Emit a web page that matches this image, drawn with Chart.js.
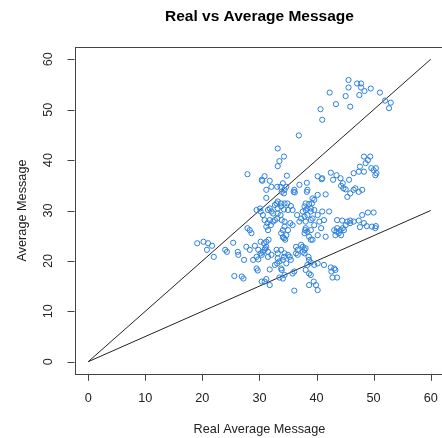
<!DOCTYPE html>
<html>
<head>
<meta charset="utf-8">
<title>Real vs Average Message</title>
<script src="https://cdn.jsdelivr.net/npm/chart.js@4"></script>
<style>
  html, body { margin: 0; padding: 0; background: #fff; overflow: hidden; }
  canvas { display: block; }
</style>
</head>
<body>
<canvas id="c" width="448" height="438" style="width:448px;height:438px"></canvas>
<script>
// Observed pairs: real average message (x) and average message (y)
const realAvg = [
  45.6,47.1,47.8,45.6,47.8,48.4,49.5,42.3,45.1,47.5,51.1,43.4,45.9,52.0,53.0,52.7,40.7,41.0,36.9,33.2,
  34.3,33.5,33.2,27.9,30.9,30.4,30.5,31.8,34.8,34.1,33.7,34.7,34.4,34.3,33.9,32.1,33.1,31.2,31.2,
  36.1,36.2,36.0,37.0,38.3,40.2,41.0,40.9,42.5,43.5,44.2,42.9,44.6,44.3,44.7,45.1,45.7,
  46.5,47.4,48.3,47.6,48.6,49.0,48.3,49.4,49.6,50.0,50.4,50.5,50.3,
  45.9,45.4,46.5,47.4,48.0,46.8,38.4,38.3,40.2,41.6,
  39.3,39.6,39.2,38.7,38.1,37.9,38.4,39.0,39.6,37.6,38.1,39.0,
  33.2,33.0,33.8,34.4,34.9,35.5,35.8,35.0,34.3,33.8,33.2,32.7,
  30.1,29.5,30.2,30.6,31.5,32.1,32.4,31.8,
  33.2,33.7,33.1,33.9,32.7,34.4,
  36.6,37.3,37.9,38.4,39.3,39.0,38.1,37.0,
  41.0,42.2,40.2,41.3,40.5,
  30.9,31.8,31.4,32.0,32.4,31.2,31.5,
  35.4,35.8,34.4,34.1,35.0,33.8,34.7,34.3,34.5,34.1,
  38.1,38.0,38.4,37.9,39.0,40.8,39.6,
  43.6,44.5,45.4,45.9,46.5,47.4,48.0,49.0,50.0,48.3,48.8,49.7,50.3,50.4,47.6,45.9,45.1,43.6,43.5,44.2,44.6,43.9,43.3,44.3,44.8,43.1,
  27.9,28.3,28.6,
  19.1,20.2,21.0,21.7,20.8,22.0,24.0,24.3,25.4,26.2,26.3,27.3,27.7,28.3,29.2,29.8,29.5,30.2,30.6,30.9,31.2,31.2,31.6,30.8,
  30.2,31.0,30.4,29.8,28.9,31.5,32.1,31.5,
  33.0,33.2,33.8,34.3,34.4,34.1,35.0,35.3,33.2,33.5,33.1,32.7,34.7,35.5,
  36.4,36.7,37.3,37.6,37.9,37.6,38.1,37.9,36.7,36.4,38.6,38.7,39.0,39.6,40.2,41.3,42.5,43.1,43.3,42.6,43.6,42.8,
  25.6,26.9,27.2,29.5,29.7,31.8,33.8,33.9,34.4,35.8,36.1,34.1,33.5,31.2,30.9,30.4,31.8,36.1,38.7,39.5,39.9,40.2,38.4,38.1,39.0,38.7,
  41.6,40.2,39.0,38.7,39.3
];
const avgMessage = [
  55.9,55.2,55.2,54.4,54.4,53.7,54.2,53.4,52.7,52.9,53.4,51.1,50.6,51.8,51.4,50.3,50.1,48.0,44.9,42.3,
  40.7,39.8,38.8,37.2,36.8,36.1,35.9,35.9,36.9,35.4,34.7,34.7,34.1,33.4,33.7,34.7,34.7,34.1,32.5,
  34.1,33.6,33.7,35.1,35.5,36.8,36.4,36.2,37.5,37.0,36.4,36.1,35.4,34.9,34.4,34.2,36.1,
  37.4,37.7,37.7,38.7,39.4,40.0,40.7,40.7,38.4,38.0,38.4,37.4,37.0,
  33.4,32.7,34.1,33.7,34.1,34.4,34.1,33.7,33.1,33.2,
  32.4,32.1,31.4,31.3,31.4,30.8,30.4,29.8,30.1,29.8,30.1,30.4,
  31.8,31.4,31.4,31.4,31.4,30.9,30.1,30.1,30.2,30.8,30.4,31.1,
  30.4,30.1,29.8,29.1,30.1,29.8,29.4,30.4,
  29.4,29.1,28.4,28.1,28.1,27.8,
  29.1,28.4,28.8,29.1,28.4,28.1,27.8,27.8,
  29.8,29.8,29.1,28.1,27.8,
  28.1,28.1,27.5,27.1,27.8,26.8,26.1,
  27.5,27.1,26.8,26.1,26.1,25.5,25.1,24.5,24.2,24.7,
  26.5,26.1,25.8,25.5,26.1,26.5,27.1,
  28.1,28.0,27.8,28.0,27.8,28.0,29.1,29.6,29.6,27.5,26.9,26.8,26.5,26.9,26.7,27.5,27.1,26.5,25.8,26.1,26.5,25.5,25.1,25.1,26.1,26.1,
  26.5,26.1,25.5,
  23.5,23.8,23.5,23.0,22.2,20.8,22.2,21.8,23.6,21.8,21.2,20.2,22.8,22.2,23.0,22.2,20.8,21.5,21.8,22.2,22.8,23.8,24.2,23.5,
  23.8,22.5,21.2,20.3,20.2,20.8,21.2,21.8,
  22.2,21.5,22.2,20.8,21.5,20.2,21.2,20.8,20.5,19.9,19.5,19.2,19.5,20.2,
  22.8,22.2,23.2,22.8,22.2,21.8,22.5,21.5,21.2,21.5,20.8,20.2,19.7,19.2,19.5,19.2,18.7,18.5,18.2,17.9,16.7,16.7,
  17.0,16.9,16.5,18.5,18.1,18.3,18.5,18.2,17.2,17.5,17.9,16.5,16.7,16.4,15.9,15.9,15.2,14.1,15.2,15.9,15.2,14.2,19.2,18.2,17.2,17.5,
  24.8,25.1,24.2,24.8,24.2
];

// Reference lines through the origin: y = x and y = x / 2
const lineX = [0, 60];
const lineEqual = [0, 60];
const lineHalf = [0, 30];

// Axis ticks
const xTicks = [0, 10, 20, 30, 40, 50, 60];
const yTicks = [0, 10, 20, 30, 40, 50, 60];

const FONT = '"Liberation Sans", Arial, Helvetica, sans-serif';

const scatterPts = realAvg.map((x, i) => ({ x: x, y: avgMessage[i] }));
const equalPts = lineX.map((x, i) => ({ x: x, y: lineEqual[i] }));
const halfPts = lineX.map((x, i) => ({ x: x, y: lineHalf[i] }));

// Box, tick marks, tick labels and titles in base-graphics style
const frame = {
  id: 'frame',
  afterDraw(chart) {
    const ctx = chart.ctx;
    const a = chart.chartArea;
    const sx = chart.scales.x, sy = chart.scales.y;
    ctx.save();
    ctx.strokeStyle = '#444';
    ctx.lineWidth = 1;
    ctx.strokeRect(Math.round(a.left) + 0.5, Math.round(a.top) + 0.5,
                   Math.round(a.right - a.left), Math.round(a.bottom - a.top));

    ctx.fillStyle = '#222';
    ctx.font = '12.7px ' + FONT;

    // x axis ticks
    ctx.beginPath();
    xTicks.forEach(v => {
      const px = Math.round(sx.getPixelForValue(v)) + 0.5;
      ctx.moveTo(px, a.bottom);
      ctx.lineTo(px, a.bottom + 7);
    });
    ctx.stroke();
    ctx.textAlign = 'center';
    ctx.textBaseline = 'middle';
    xTicks.forEach(v => {
      ctx.fillText(String(v), sx.getPixelForValue(v), 398);
    });

    // y axis ticks
    ctx.beginPath();
    yTicks.forEach(v => {
      const py = Math.round(sy.getPixelForValue(v)) + 0.5;
      ctx.moveTo(a.left, py);
      ctx.lineTo(a.left - 7, py);
    });
    ctx.stroke();
    yTicks.forEach(v => {
      ctx.save();
      ctx.translate(48, sy.getPixelForValue(v));
      ctx.rotate(-Math.PI / 2);
      ctx.fillText(String(v), 0, 0);
      ctx.restore();
    });

    // axis titles
    const cx = (a.left + a.right) / 2;
    ctx.fillText('Real Average Message', cx, 429);
    ctx.save();
    ctx.translate(22, (a.top + a.bottom) / 2);
    ctx.rotate(-Math.PI / 2);
    ctx.fillText('Average Message', 0, 0);
    ctx.restore();

    // main title
    ctx.fillStyle = '#000';
    ctx.font = 'bold 15.5px ' + FONT;
    ctx.fillText('Real vs Average Message', cx, 17);
    ctx.restore();
  }
};

new Chart(document.getElementById('c'), {
  type: 'scatter',
  data: {
    datasets: [
      {
        label: 'Messages',
        data: scatterPts,
        pointStyle: 'circle',
        pointRadius: 2.6,
        pointHoverRadius: 2.6,
        borderWidth: 1,
        borderColor: '#2a7fdc',
        backgroundColor: 'rgba(0,0,0,0)'
      },
      {
        label: 'y = x',
        data: equalPts,
        showLine: true,
        pointRadius: 0,
        borderColor: '#222',
        borderWidth: 1
      },
      {
        label: 'y = x/2',
        data: halfPts,
        showLine: true,
        pointRadius: 0,
        borderColor: '#222',
        borderWidth: 1
      }
    ]
  },
  options: {
    responsive: false,
    animation: false,
    events: [],
    layout: { padding: { left: 74.5, right: 0, top: 47.2, bottom: 64.2 } },
    plugins: { legend: { display: false }, tooltip: { enabled: false }, title: { display: false } },
    scales: {
      x: { type: 'linear', display: false, min: -2.4, max: 62.4 },
      y: { type: 'linear', display: false, min: -2.4, max: 62.4 }
    }
  },
  plugins: [frame]
});
</script>
</body>
</html>
